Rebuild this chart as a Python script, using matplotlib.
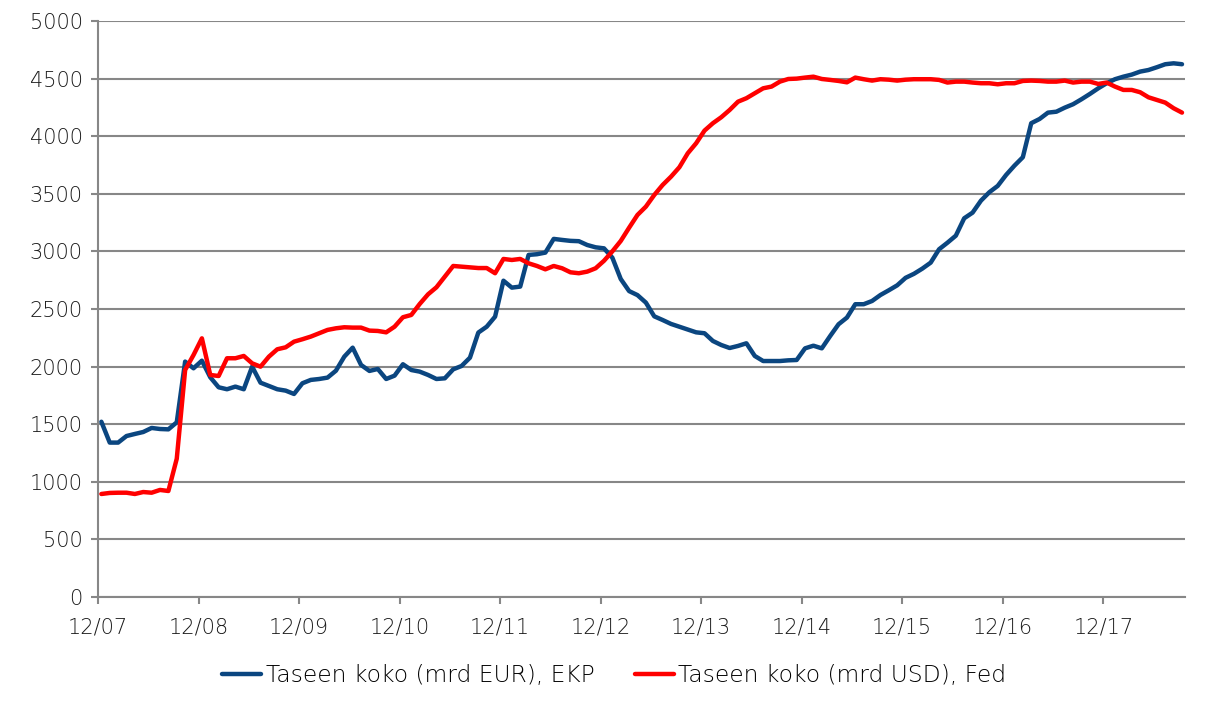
import matplotlib
matplotlib.use("Agg")
import matplotlib.pyplot as plt
import numpy as np

# === data: monthly balance sheet size, first point ~12/07 ===
tick_labels = ['12/07', '12/08', '12/09', '12/10', '12/11', '12/12',
               '12/13', '12/14', '12/15', '12/16', '12/17']

ecb_eur = [1521, 1340, 1340, 1397, 1415, 1432, 1467, 1458, 1455, 1516,
           2043, 1985, 2051, 1907, 1820, 1803, 1826, 1803, 1999, 1860,
           1832, 1803, 1791, 1762, 1855, 1884, 1892, 1904, 1964, 2086,
           2164, 2014, 1962, 1979, 1892, 1921, 2020, 1970, 1956, 1927,
           1892, 1898, 1976, 2005, 2077, 2295, 2346, 2433, 2745, 2685,
           2694, 2969, 2975, 2989, 3108, 3099, 3091, 3088, 3055, 3035,
           3026, 2945, 2760, 2655, 2620, 2555, 2436, 2404, 2370, 2346,
           2323, 2297, 2289, 2222, 2187, 2161, 2179, 2202, 2092, 2048,
           2048, 2048, 2054, 2057, 2158, 2181, 2158, 2265, 2367, 2425,
           2541, 2541, 2569, 2621, 2662, 2705, 2770, 2805, 2850, 2902,
           3018, 3075, 3136, 3287, 3336, 3440, 3513, 3568, 3663, 3744,
           3817, 4112, 4149, 4204, 4212, 4247, 4277, 4320, 4366, 4415,
           4459, 4494, 4516, 4534, 4560, 4574, 4598, 4624, 4632, 4624]

fed_usd = [894, 903, 905, 905, 894, 911, 905, 929, 920, 1200,
           1970, 2100, 2245, 1927, 1918, 2072, 2072, 2092, 2028, 1999,
           2086, 2150, 2167, 2216, 2237, 2260, 2289, 2318, 2332, 2341,
           2338, 2338, 2312, 2309, 2297, 2346, 2428, 2448, 2543, 2627,
           2688, 2780, 2873, 2867, 2861, 2855, 2855, 2810, 2934, 2925,
           2934, 2896, 2873, 2844, 2873, 2853, 2818, 2810, 2824, 2853,
           2918, 3000, 3090, 3205, 3316, 3388, 3489, 3576, 3648, 3730,
           3851, 3938, 4048, 4112, 4164, 4227, 4299, 4329, 4372, 4415,
           4430, 4473, 4496, 4499, 4508, 4516, 4496, 4488, 4479, 4467,
           4508, 4494, 4482, 4494, 4490, 4482, 4490, 4494, 4494, 4494,
           4488, 4465, 4473, 4473, 4465, 4459, 4459, 4450, 4459, 4459,
           4479, 4482, 4479, 4473, 4473, 4482, 4465, 4473, 4473, 4453,
           4465, 4430, 4401, 4401, 4381, 4337, 4314, 4291, 4242, 4204]

legends = ['Taseen koko (mrd EUR), EKP', 'Taseen koko (mrd USD), Fed']

# === draw ===
plt.rcParams['font.family'] = ['DejaVu Sans']
plt.rcParams['font.weight'] = 'light'
grid_color = '#878787'

fig = plt.figure(figsize=(12.19, 7.09), dpi=100)
ax = fig.add_axes([0.0804, 0.158, 0.892, 0.8125])

months = np.arange(len(ecb_eur)) + 0.4
ax.plot(months, ecb_eur, color='#0b4680', linewidth=3.2, label=legends[0],
        solid_joinstyle='round', solid_capstyle='round')
ax.plot(months, fed_usd, color='#ff0000', linewidth=3.2, label=legends[1],
        solid_joinstyle='round', solid_capstyle='round')

ax.set_xlim(0, 129.8)
ax.set_ylim(0, 5000)
ax.set_yticks(np.arange(0, 5001, 500))
ax.set_xticks(np.arange(0, 12 * len(tick_labels), 12))
ax.set_xticklabels(tick_labels)

ax.grid(True, axis='y', color=grid_color, linewidth=1.5)
ax.set_axisbelow(True)
for side in ['top', 'right']:
    ax.spines[side].set_visible(False)
for side in ['left', 'bottom']:
    ax.spines[side].set_color(grid_color)
    ax.spines[side].set_linewidth(1.5)

ax.tick_params(axis='both', colors=grid_color, labelcolor='#1a1a1a',
               labelsize=15, width=1.5, length=5)
ax.tick_params(axis='x', pad=10)
ax.tick_params(axis='y', pad=6)

# legend centred on the figure, below the axes
handles, labels = ax.get_legend_handles_labels()
fig.legend(handles, labels, loc='upper center', bbox_to_anchor=(0.504, 0.093),
           ncol=2, frameon=False, fontsize=16.8, handlelength=1.65,
           handletextpad=0.2, columnspacing=1.75)

plt.savefig('out.png', dpi=100)
